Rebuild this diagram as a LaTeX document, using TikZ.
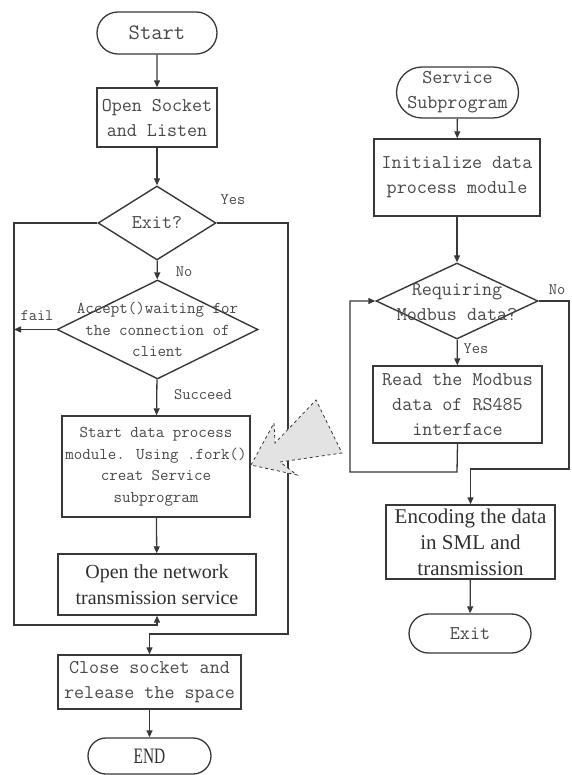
\documentclass[tikz,border=0pt]{standalone}
\usepackage{fontspec}
\setmainfont{Liberation Serif}
\newfontfamily\condfont[FakeStretch=0.7]{Liberation Serif}
\usetikzlibrary{shapes.geometric,shapes.misc,arrows.meta}
\newcommand\fsz[2]{\fontsize{#1}{#2}\selectfont}
\definecolor{linec}{HTML}{383838}
\definecolor{textc}{HTML}{484848}
\definecolor{textd}{HTML}{303030}
\tikzset{
  ln/.style={draw=linec, line width=1.3pt},
  arr/.style={ln, -{Triangle[length=7pt,width=6pt]}},
  box/.style={draw=linec, line width=1.4pt, rectangle, align=center, inner sep=0pt, text=textc},
  term/.style={draw=linec, line width=1.3pt, rounded rectangle, inner sep=0pt, align=center, text=textc},
  dia/.style={draw=linec, line width=1.4pt, diamond, inner sep=0pt},
  lbl/.style={text=textc, inner sep=0pt, align=center},
  simt/.style={font=\ttfamily\fsz{19.5}{25}},
  simm/.style={font=\ttfamily\fsz{16.5}{21.5}},
  serf/.style={font=\fsz{20}{25.5}, text=textd},
  small/.style={lbl, font=\ttfamily\fsz{16}{18}}
}
\begin{document}
\begin{tikzpicture}[x=1pt,y=-1pt]
\useasboundingbox (0,0) rectangle (571,775);
% left column
\node[term, font=\ttfamily\fsz{22}{26}, minimum width=120pt, minimum height=42pt] (start) at (157,33) {Start};
\node[box, simt, minimum width=120pt, minimum height=59pt] (open) at (157,117.5) {Open Socket\\and Listen};
\node[dia, minimum width=118pt, minimum height=74pt, label={[lbl, simt]center:Exit?}] (exit) at (157,223) {};
\node[dia, minimum width=201pt, minimum height=99pt, label={[lbl, simm]center:Accept()waiting for\\the connection of\\client}] (accept) at (157.5,329.5) {};
\node[box, simm, minimum width=188pt, minimum height=101pt] (sdata) at (156,466.5) {Start data process\\module. Using .fork()\\creat Service\\subprogram};
\node[box, serf, minimum width=198pt, minimum height=61pt] (net) at (157,584.5) {Open the network\\transmission service};
\node[box, simt, minimum width=183pt, minimum height=54pt] (close) at (149.5,682) {Close socket and\\release the space};
\node[term, font=\condfont\fsz{22}{24}, text=textd, minimum width=123pt, minimum height=36pt] (end) at (149.5,756) {END};
% right column
\node[term, simt, minimum width=121pt, minimum height=51pt] (svc) at (457.5,92.5) {Service\\Subprogram};
\node[box, simt, minimum width=166pt, minimum height=77pt] (init) at (457,177.5) {Initialize data\\process module};
\node[dia, minimum width=162pt, minimum height=76pt, label={[lbl, simt, yshift=-1pt]center:Requiring\\Modbus data?}] (req) at (457,301) {};
\node[box, simt, minimum width=169pt, minimum height=77pt] (read) at (457.5,404.5) {Read the Modbus\\data of RS485\\interface};
\node[box, serf, font=\fsz{21}{26}, minimum width=169pt, minimum height=74pt] (enc) at (470.5,542) {Encoding the data\\in SML and\\transmission};
\node[term, simt, minimum width=122pt, minimum height=39pt] (exitr) at (470,633.5) {Exit};
% coordinates
\coordinate (lt) at (14,223);
\coordinate (lb) at (14,625);
\coordinate (rt) at (288,223);
\coordinate (rb) at (288,634);
\coordinate (rl) at (457,472);
\coordinate (rll) at (350,472);
\coordinate (rrt) at (569,301);
\coordinate (rrb) at (569,469);
% connectors left
\draw[arr] (start) -- (open);
\draw[arr] (open) -- (exit);
\draw[arr] (exit) -- (accept);
\draw[arr] (accept) -- (sdata);
\draw[arr] (sdata) -- (net);
\draw[arr] (close) -- (end);
\draw[arr] (exit.west) -- (lt) -- (lb) -| (net.south);
\draw[arr] (accept.west) -- (accept.west -| lt);
\draw[arr] (exit.east) -- (rt) -- (rb) -| (close.north);
% connectors right
\draw[arr] (svc) -- (init);
\draw[arr] (init) -- (req);
\draw[arr] (req) -- (read);
\draw[arr] (read.south) -- (rl) -- (rll) |- (req.west);
\draw[arr] (req.east) -- (rrt) -- (rrb) -| (enc.north);
\draw[arr] (enc) -- (exitr);
% labels
\node[small] (yes1) at (233,200) {Yes};
\node[small] (no1) at (184,272) {No};
\node[small] (fail) at (37,316) {fail};
\node[small] (succ) at (203,395) {Succeed};
\node[small] (no2) at (557,290) {No};
\node[small] (yes2) at (476,349) {Yes};
% jagged arrow
\draw[draw=linec, dashed, line width=0.8pt, fill=gray!22]
  (251,465) -- (274,423) -- (275,443) -- (316,400) -- (342,453) -- (280,462) -- (297,475) -- cycle;
\end{tikzpicture}
\end{document}
